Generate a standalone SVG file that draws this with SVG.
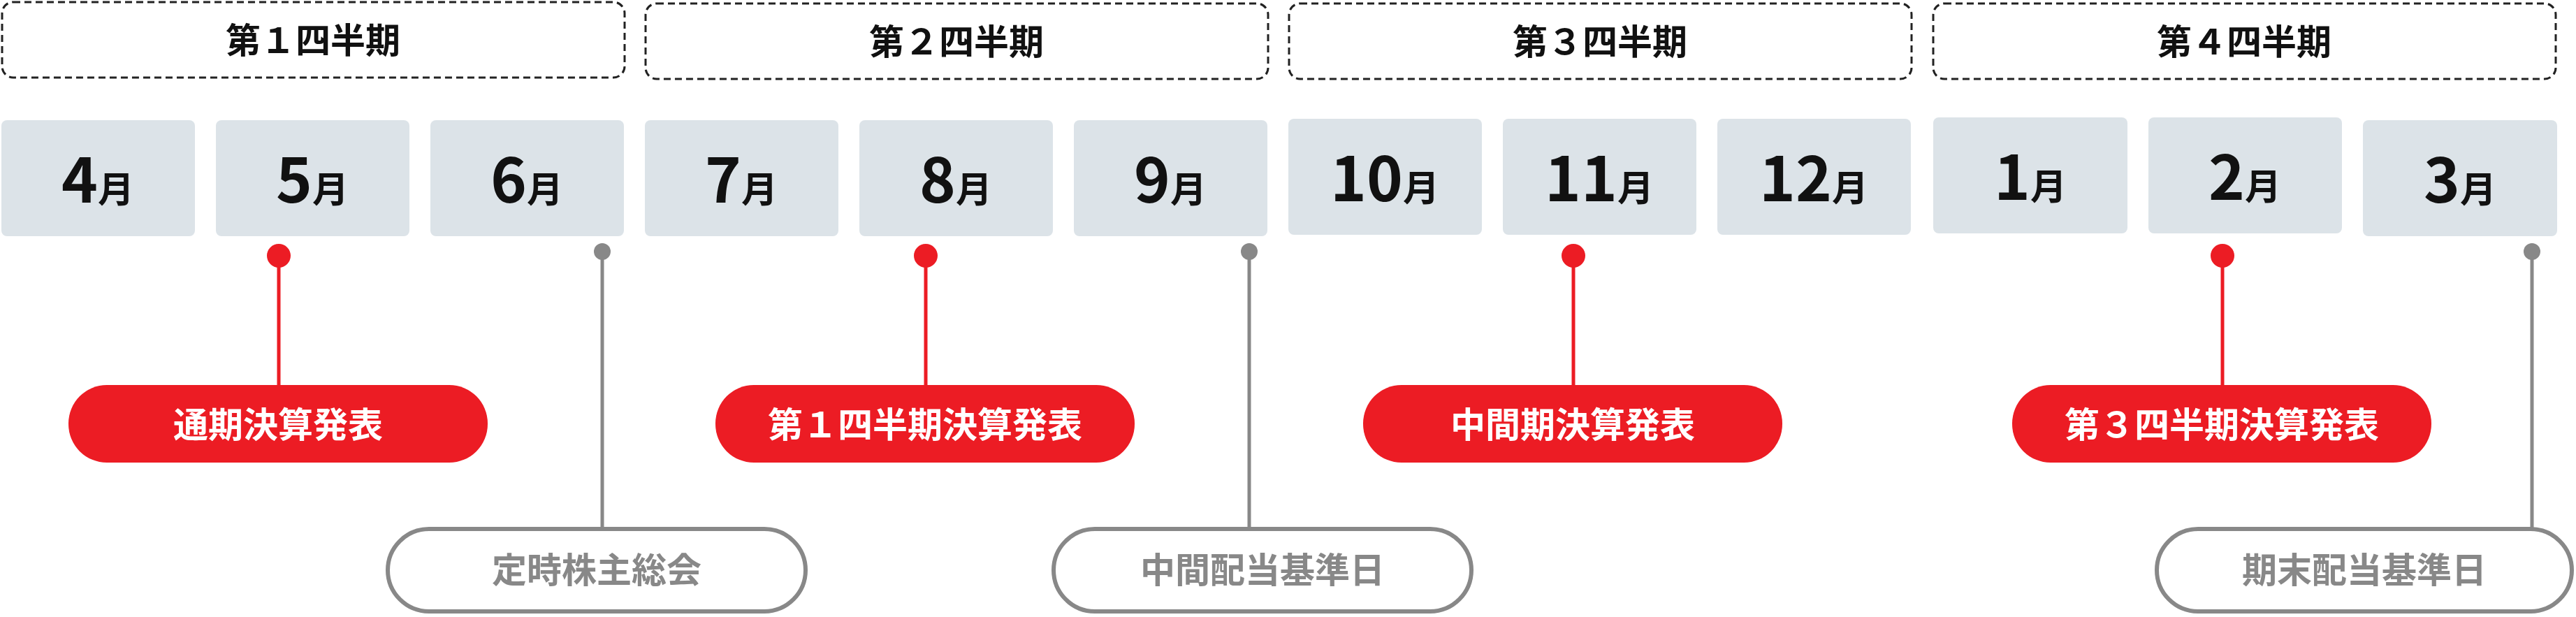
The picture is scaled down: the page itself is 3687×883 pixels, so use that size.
<svg xmlns="http://www.w3.org/2000/svg" width="3687" height="883" viewBox="0 0 3687 883">
<style>
text{font-family:"Noto Sans CJK JP","Noto Sans",sans-serif;font-weight:bold;text-anchor:middle}
.q{fill:#fff;stroke:#222;stroke-width:3;stroke-dasharray:10 6}
.qt{font-size:50px;fill:#111}
.m{fill:#DCE3E8}
.mt{font-size:88px;fill:#111}
.mt tspan{font-size:52px}
.rp{fill:#EC1C24}
.rt{font-size:50px;fill:#fff}
.gp{fill:#fff;stroke:#888;stroke-width:6}
.gt{font-size:50px;fill:#888}
.rl{stroke:#EC1C24;stroke-width:5}
.gl{stroke:#888;stroke-width:5}
</style>
<g id="quarters">
<rect class="q" x="3" y="3" width="891" height="108" rx="16"/><text class="qt" x="448" y="76">第１四半期</text>
<rect class="q" x="924" y="5" width="891" height="108" rx="16"/><text class="qt" x="1369" y="78">第２四半期</text>
<rect class="q" x="1845" y="5" width="891" height="108" rx="16"/><text class="qt" x="2290" y="78">第３四半期</text>
<rect class="q" x="2767" y="5" width="891" height="108" rx="16"/><text class="qt" x="3212" y="78">第４四半期</text>
</g>
<g id="months">
<rect class="m" x="2" y="172" width="277" height="166" rx="8"/><text class="mt" x="140" y="290">4<tspan>月</tspan></text>
<rect class="m" x="309" y="172" width="277" height="166" rx="8"/><text class="mt" x="447" y="290">5<tspan>月</tspan></text>
<rect class="m" x="616" y="172" width="277" height="166" rx="8"/><text class="mt" x="754" y="290">6<tspan>月</tspan></text>
<rect class="m" x="923" y="172" width="277" height="166" rx="8"/><text class="mt" x="1061" y="290">7<tspan>月</tspan></text>
<rect class="m" x="1230" y="172" width="277" height="166" rx="8"/><text class="mt" x="1368" y="290">8<tspan>月</tspan></text>
<rect class="m" x="1537" y="172" width="277" height="166" rx="8"/><text class="mt" x="1675" y="290">9<tspan>月</tspan></text>
<rect class="m" x="1844" y="170" width="277" height="166" rx="8"/><text class="mt" x="1982" y="288">10<tspan>月</tspan></text>
<rect class="m" x="2151" y="170" width="277" height="166" rx="8"/><text class="mt" x="2289" y="288">11<tspan>月</tspan></text>
<rect class="m" x="2458" y="170" width="277" height="166" rx="8"/><text class="mt" x="2596" y="288">12<tspan>月</tspan></text>
<rect class="m" x="2767" y="168" width="278" height="166" rx="8"/><text class="mt" x="2906" y="286">1<tspan>月</tspan></text>
<rect class="m" x="3075" y="168" width="277" height="166" rx="8"/><text class="mt" x="3213" y="286">2<tspan>月</tspan></text>
<rect class="m" x="3382" y="172" width="278" height="166" rx="8"/><text class="mt" x="3521" y="290">3<tspan>月</tspan></text>
</g>
<g id="connectors">
<line class="rl" x1="399" y1="366" x2="399" y2="552"/><circle cx="399" cy="366" r="17" fill="#EC1C24"/>
<line class="rl" x1="1325" y1="366" x2="1325" y2="552"/><circle cx="1325" cy="366" r="17" fill="#EC1C24"/>
<line class="rl" x1="2252" y1="366" x2="2252" y2="552"/><circle cx="2252" cy="366" r="17" fill="#EC1C24"/>
<line class="rl" x1="3181" y1="366" x2="3181" y2="552"/><circle cx="3181" cy="366" r="17" fill="#EC1C24"/>
<line class="gl" x1="862" y1="360" x2="862" y2="756"/><circle cx="862" cy="360" r="12" fill="#888"/>
<line class="gl" x1="1788" y1="360" x2="1788" y2="756"/><circle cx="1788" cy="360" r="12" fill="#888"/>
<line class="gl" x1="3624" y1="360" x2="3624" y2="756"/><circle cx="3624" cy="360" r="12" fill="#888"/>
</g>
<g id="ev1"><rect class="rp" x="98" y="551" width="600" height="111" rx="55"/><text class="rt" x="398" y="626">通期決算発表</text></g>
<g id="ev2"><rect class="rp" x="1024" y="551" width="600" height="111" rx="55"/><text class="rt" x="1324" y="626">第１四半期決算発表</text></g>
<g id="ev3"><rect class="rp" x="1951" y="551" width="600" height="111" rx="55"/><text class="rt" x="2251" y="626">中間期決算発表</text></g>
<g id="ev4"><rect class="rp" x="2880" y="551" width="600" height="111" rx="55"/><text class="rt" x="3180" y="626">第３四半期決算発表</text></g>
<g id="ev5"><rect class="gp" x="555" y="757" width="598" height="118" rx="59"/><text class="gt" x="854" y="834">定時株主総会</text></g>
<g id="ev6"><rect class="gp" x="1508" y="757" width="598" height="118" rx="59"/><text class="gt" x="1807" y="834">中間配当基準日</text></g>
<g id="ev7"><rect class="gp" x="3087" y="757" width="594" height="118" rx="59"/><text class="gt" x="3384" y="834">期末配当基準日</text></g>
</svg>
